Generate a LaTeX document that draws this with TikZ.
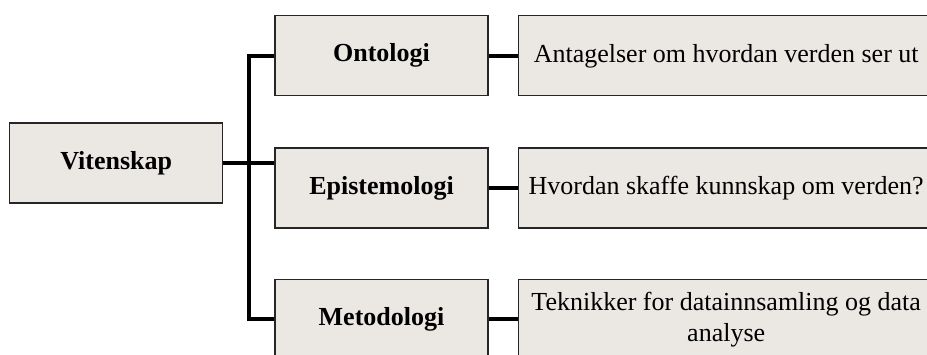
\documentclass[tikz,border=0pt]{standalone}
\usepackage{fontspec}
\setmainfont{Liberation Serif}
\usetikzlibrary{positioning, calc}
\definecolor{boxfill}{HTML}{EBE8E4}
\tikzset{
  topic/.style={draw=black!85, line width=0.6pt, fill=boxfill, minimum height=40pt, minimum width=106.5pt, font=\fontsize{13}{15.5}\selectfont\bfseries},
  note/.style={draw=black!85, line width=0.6pt, fill=boxfill, minimum height=40pt, minimum width=208pt, align=center, font=\fontsize{13}{15.5}\selectfont},
  link/.style={line width=2pt},
}

\begin{document}
\begin{tikzpicture}[x=0.5pt, y=-0.5pt]
  \clip (0,0) rectangle (927,354);
  \useasboundingbox (0,0) rectangle (927,354);
  \node[topic] (epi) at (381.5,188) {Epistemologi};
  \node[topic, above=25.5pt of epi] (onto) {Ontologi};
  \node[topic, below=25pt of epi] (meto) {Metodologi};
  \node[topic, left=25.5pt of epi, yshift=12.5pt] (vit) {Vitenskap};
  \node[note, right=14.5pt of onto] (onto-r) {Antagelser om hvordan verden ser ut};
  \node[note, right=14.5pt of epi] (epi-r) {Hvordan skaffe kunnskap om verden?};
  \node[note, right=14.5pt of meto] (meto-r) {Teknikker for datainnsamling og data\\analyse};
  % tree lines
  \coordinate (jn) at ($(vit.east)!0.5!(vit.east -| epi.west)$);
  \draw[link] (vit.east) -- (vit.east -| epi.west);
  \draw[link] (onto.west) -| (jn) |- (meto.west);
  \draw[link] (onto.east) -- (onto-r.west);
  \draw[link] (epi.east) -- (epi-r.west);
  \draw[link] (meto.east) -- (meto-r.west);
\end{tikzpicture}
\end{document}
